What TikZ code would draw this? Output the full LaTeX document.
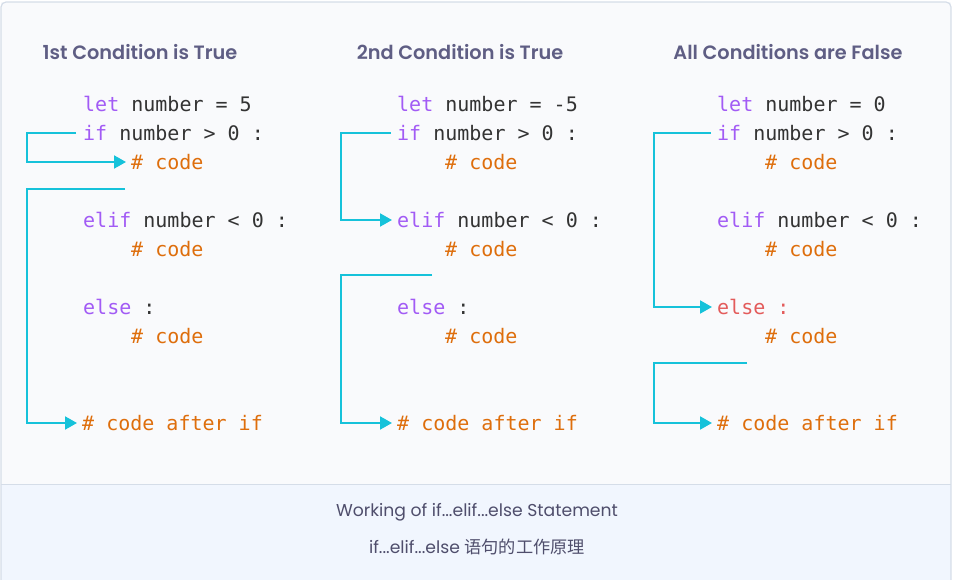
\documentclass[tikz,border=0pt]{standalone}
\usepackage{fontspec}
\setmainfont{Poppins}
\newfontfamily\codefont{DejaVu Sans Mono}
\newfontfamily\titlefont{Poppins SemiBold}
\newfontfamily\cjkfont{Noto Sans CJK SC}
\usetikzlibrary{arrows.meta}
\definecolor{framec}{HTML}{D5DDE8}
\definecolor{topbg}{HTML}{F9FAFC}
\definecolor{capbg}{HTML}{F1F6FE}
\definecolor{titlec}{HTML}{5F5E84}
\definecolor{capc}{HTML}{4F4E6C}
\definecolor{kw}{HTML}{A25BF5}
\definecolor{txt}{HTML}{333333}
\definecolor{cmt}{HTML}{DE6E0C}
\definecolor{redkw}{HTML}{E35B5B}
\definecolor{flow}{HTML}{16C2DA}
\tikzset{
  codeline/.style={anchor=west, inner sep=0pt, font=\codefont\fontsize{20}{20}\selectfont, text=txt},
  paneltitle/.style={inner sep=0pt, font=\titlefont\fontsize{19.3}{20}\selectfont, text=titlec},
  captext/.style={inner sep=0pt, font=\fontsize{17.2}{18}\selectfont, text=capc},
  flowline/.style={draw=flow, line width=2pt},
  flowarrow/.style={flowline, -{Triangle[length=12pt,width=13pt]}},
}
\newcommand{\kwd}[1]{\textcolor{kw}{#1}}
\newcommand{\cmtx}[1]{\textcolor{cmt}{#1}}
\begin{document}
\begin{tikzpicture}[x=1pt,y=-1pt]
\useasboundingbox (0,0) rectangle (954,580);
% frame
\fill[topbg] (1,2) rectangle (951,484);
\fill[capbg] (1,484) rectangle (951,585);
\draw[framec, line width=1.2pt, rounded corners=5pt] (1,590) -- (1,2) -- (951,2) -- (951,590);
\draw[framec, line width=1pt] (1,484.5) -- (951,484.5);

% titles
\node[paneltitle] (t1) at (140,52) {1st Condition is True};
\node[paneltitle] (t2) at (460,52) {2nd Condition is True};
\node[paneltitle] (t3) at (788,52) {All Conditions are False};

% panel 1
\node[codeline] (a1) at (83,104) {\kwd{let} number = 5};
\node[codeline] (a2) at (83,133) {\kwd{if} number > 0 :};
\node[codeline] (a3) at (131,162) {\cmtx{\# code}};
\node[codeline] (a4) at (83,220) {\kwd{elif} number < 0 :};
\node[codeline] (a5) at (131,249) {\cmtx{\# code}};
\node[codeline] (a6) at (83,307) {\kwd{else} :};
\node[codeline] (a7) at (131,336) {\cmtx{\# code}};
\node[codeline] (a8) at (82,423) {\cmtx{\# code after if}};
\coordinate (a9) at (125,189);
\draw[flowarrow] ([xshift=-7pt]a2.west) -| (27,162) -- ([xshift=-5pt]a3.west);
\draw[flowarrow] (a9) -| (27,423) -- ([xshift=-5pt]a8.west);

% panel 2
\node[codeline] (b1) at (397,104) {\kwd{let} number = -5};
\node[codeline] (b2) at (397,133) {\kwd{if} number > 0 :};
\node[codeline] (b3) at (445,162) {\cmtx{\# code}};
\node[codeline] (b4) at (397,220) {\kwd{elif} number < 0 :};
\node[codeline] (b5) at (445,249) {\cmtx{\# code}};
\node[codeline] (b6) at (397,307) {\kwd{else} :};
\node[codeline] (b7) at (445,336) {\cmtx{\# code}};
\node[codeline] (b8) at (397,423) {\cmtx{\# code after if}};
\coordinate (b9) at (432,275);
\draw[flowarrow] ([xshift=-6pt]b2.west) -| (341,220) -- ([xshift=-5pt]b4.west);
\draw[flowarrow] (b9) -| (341,423) -- ([xshift=-5pt]b8.west);

% panel 3
\node[codeline] (c1) at (717,104) {\kwd{let} number = 0};
\node[codeline] (c2) at (717,133) {\kwd{if} number > 0 :};
\node[codeline] (c3) at (765,162) {\cmtx{\# code}};
\node[codeline] (c4) at (717,220) {\kwd{elif} number < 0 :};
\node[codeline] (c5) at (765,249) {\cmtx{\# code}};
\node[codeline, text=redkw] (c6) at (717,307) {else :};
\node[codeline] (c7) at (765,336) {\cmtx{\# code}};
\node[codeline] (c8) at (717,423) {\cmtx{\# code after if}};
\coordinate (c9) at (747,363);
\draw[flowarrow] ([xshift=-6pt]c2.west) -| (654,307) -- ([xshift=-5pt]c6.west);
\draw[flowarrow] (c9) -| (654,423) -- ([xshift=-5pt]c8.west);

% caption
\node[captext] (cap1) at (477,512) {Working of if...elif...else Statement};
\node[captext] (cap2) at (477,547) {if...elif...else {\cjkfont 语句的工作原理}};
\end{tikzpicture}
\end{document}
